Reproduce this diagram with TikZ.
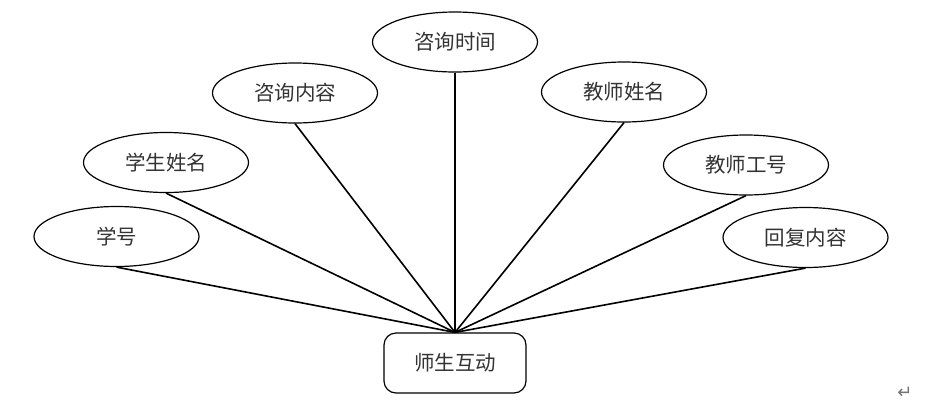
\documentclass[tikz,border=0pt]{standalone}
\usepackage{fontspec}
\newfontfamily\cjk{Noto Sans CJK SC}
\newfontfamily\dejavu{DejaVu Sans}
\usetikzlibrary{shapes.geometric}
\begin{document}
\begin{tikzpicture}[x=1pt,y=-1pt,
  attr/.style={ellipse,draw=black,line width=1.2pt,minimum width=165pt,minimum height=60pt,inner sep=0pt,font=\cjk\fontsize{20.5}{24}\selectfont,text=black!80},
  ent/.style={rectangle,rounded corners=12pt,draw=black,line width=1.2pt,minimum width=142pt,minimum height=60pt,inner sep=0pt,font=\cjk\fontsize{20.5}{24}\selectfont,text=black!80},
  conn/.style={line width=1.6pt,black}]
\useasboundingbox (0,0) rectangle (936,405);
\node[attr] (xh) at (116.5,236.5) {学号};
\node[attr] (xsxm) at (166,162.5) {学生姓名};
\node[attr] (zxnr) at (295,93) {咨询内容};
\node[attr] (zxsj) at (455,42) {咨询时间};
\node[attr] (jsxm) at (624,92) {教师姓名};
\node[attr] (jsgh) at (746,165) {教师工号};
\node[attr] (hfnr) at (805.5,237.5) {回复内容};
\node[ent] (hd) at (455,363) {师生互动};
\foreach \n in {xh,xsxm,zxnr,zxsj,jsxm,jsgh,hfnr}
  \draw[conn] (\n.south) -- (hd.north);
\node[font=\dejavu\fontsize{18}{20}\selectfont,text=black!55,inner sep=0pt] (ret) at (905,393) {↵};
\end{tikzpicture}
\end{document}
